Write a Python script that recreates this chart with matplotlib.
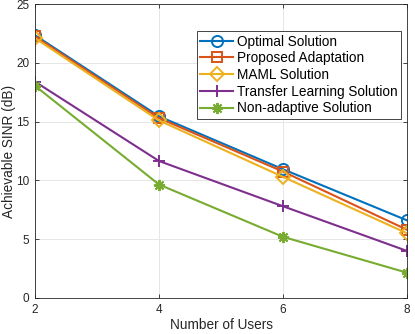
import numpy as np
import matplotlib
matplotlib.use('Agg')
import matplotlib.pyplot as plt

plt.rcParams['font.family'] = ['Liberation Sans', 'DejaVu Sans']

users = [2, 4, 6, 8]
optimal = [22.35, 15.45, 10.95, 6.6]
proposed = [22.25, 15.3, 10.75, 5.8]
maml = [22.1, 15.1, 10.3, 5.5]
transfer = [18.4, 11.65, 7.8, 4.0]
nonadaptive = [18.05, 9.65, 5.2, 2.15]

labels = ['Optimal Solution', 'Proposed Adaptation', 'MAML Solution',
          'Transfer Learning Solution', 'Non-adaptive Solution']
colors = ['#0072BD', '#D95319', '#EDB120', '#7E2F8E', '#77AC30']
markers = ['o', 's', 'D', '+', (8, 2, 0)]
sizes = [8, 7, 7, 9, 8]

fig = plt.figure(figsize=(4.15, 3.34), dpi=100)
ax = fig.add_axes([0.0843, 0.1078, 0.8967, 0.880])

series = [optimal, proposed, maml, transfer, nonadaptive]
for s, lab, c, m, ms in zip(series, labels, colors, markers, sizes):
    ax.plot(users, s, color=c, marker=m, markersize=ms, linewidth=1.5,
            markerfacecolor='none', markeredgecolor=c, markeredgewidth=1.4,
            label=lab)

ax.set_xlim(2, 8)
ax.set_ylim(0, 25)
ax.set_xticks([2, 4, 6, 8])
ax.set_yticks([0, 5, 10, 15, 20, 25])
ax.grid(True, color='#e6e6e6', linewidth=0.7)
ax.set_axisbelow(True)
ax.tick_params(direction='in', labelsize=8.5, length=3, top=True, right=True,
               colors='#262626', width=0.6, pad=4)
for sp in ax.spines.values():
    sp.set_linewidth(0.6)
    sp.set_color('#262626')
ax.set_xlabel('Number of Users', fontsize=9.8, color='#262626', labelpad=2)
ax.set_ylabel('Achievable SINR (dB)', fontsize=9.8, color='#262626', labelpad=0)

leg = ax.legend(loc='upper right', bbox_to_anchor=(0.984, 0.908), fontsize=9.8,
                fancybox=False, framealpha=1, edgecolor='#262626',
                handlelength=2.4, handletextpad=0.3, borderpad=0.25,
                labelspacing=0.2, borderaxespad=0)
leg.get_frame().set_linewidth(0.6)

fig.savefig('out.png', dpi=100)
